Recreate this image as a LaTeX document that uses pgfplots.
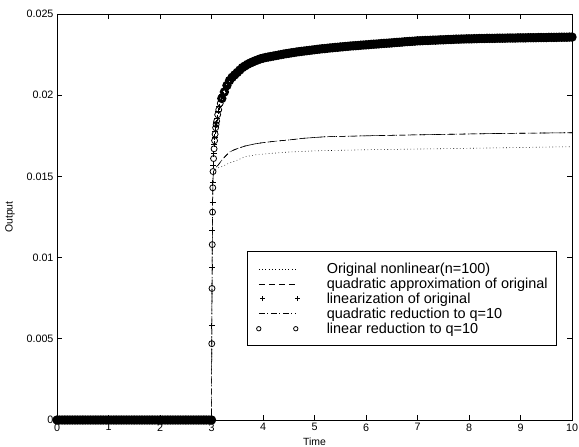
\documentclass[border=0pt]{standalone}
\usepackage{pgfplots}
\pgfplotsset{compat=1.18}
\usepackage{fontspec}
\setmainfont{Liberation Sans}
\pgfplotsset{
  linelegend/.style={legend image code/.code={\draw[##1, line width=0.6bp] (0bp,0bp) -- (37bp,0bp); \path[draw=none, fill=none] (0bp,0bp) -- (68bp,0bp);}},
  pluslegend/.style={legend image code/.code={\draw[black, solid, line width=0.8bp] (1.7bp,0bp) -- (6.3bp,0bp) (4bp,-2.3bp) -- (4bp,2.3bp) (36.7bp,0bp) -- (41.3bp,0bp) (39bp,-2.3bp) -- (39bp,2.3bp); \path[draw=none, fill=none] (0bp,0bp) -- (68bp,0bp);}},
  circlegend/.style={legend image code/.code={\draw[black, solid, line width=0.8bp] (0bp,0bp) circle (2.2bp) (37bp,0bp) circle (2.2bp); \path[draw=none, fill=none] (0bp,0bp) -- (68bp,0bp);}},
  thinmark/.style={black, only marks, mark size=3bp, line width=0.8bp},
  boldmark/.style={black, only marks, mark size=3.1bp, line width=3bp, forget plot},
}
\begin{document}
\begin{tikzpicture}
\begin{axis}[name=ax, scale only axis, width=515bp, height=406bp,
  xmin=0, xmax=10, ymin=0, ymax=0.025, clip=false,
  xtick={0,1,...,10},
  ytick={0,0.005,0.01,0.015,0.02,0.025},
  yticklabels={0,0.005,0.01,0.015,0.02,0.025},
  scaled y ticks=false,
  tick align=inside, major tick length=5bp,
  tick style={black, line width=0.6bp},
  axis line style={line width=0.8bp},
  /pgf/number format/assume math mode=true,
  tick label style={font=\fontsize{10.8}{12}\selectfont},
  xlabel={Time}, ylabel={Output},
  label style={font=\fontsize{10.5}{12}\selectfont},
  xlabel style={at={(axis description cs:0.5,-0.054)}, anchor=center},
  ylabel style={at={(axis description cs:-0.091,0.5)}, anchor=center},
  legend style={at={(0.9709,0.182)}, anchor=south east, draw=black, line width=0.8bp,
    font=\fontsize{14.5}{16}\selectfont, cells={anchor=west}, inner xsep=9bp, inner ysep=9bp,
    nodes={inner xsep=0bp, inner ysep=2bp}, row sep=-1bp},
]
\addplot[black, line width=0.6bp, dash pattern=on 0.7bp off 2.6bp, linelegend] coordinates {
(0,0) (3,0) (3.005,0.0047) (3.01,0.0081) (3.015,0.0108) (3.02,0.0128) (3.025,0.0141) (3.03,0.0149) (3.04,0.0153) (3.1,0.0155) (3.2,0.0156) (3.33,0.0158) (3.5,0.0160) (3.65,0.01621) (3.9,0.01635) (4.17,0.01642) (4.5,0.0165) (5.07,0.01658) (6,0.01664) (7.57,0.01671) (9,0.01678) (10,0.01683)};
\addlegendentry{Original nonlinear(n=100)}
\addplot[black, line width=0.6bp, dash pattern=on 6bp off 4bp, linelegend] coordinates {
(0,0) (3,0) (3.005,0.0047) (3.01,0.0081) (3.015,0.0108) (3.02,0.0128) (3.025,0.0141) (3.03,0.0149) (3.04,0.0153) (3.07,0.0155) (3.13,0.0157) (3.2,0.0160) (3.26,0.01621) (3.35,0.0165) (3.45,0.01665) (3.52,0.01673) (3.65,0.01687) (3.84,0.0170) (4.0,0.01708) (4.25,0.01717) (4.49,0.01724) (4.8,0.01735) (5.2,0.01744) (6,0.0175) (7,0.01756) (7.57,0.01759) (8.5,0.01764) (10,0.01769)};
\addlegendentry{quadratic approximation of original}
% linearization of original: isolated points of the rise
\addplot[thinmark, mark=+, pluslegend] coordinates {
(3.007,0.0058) (3.012,0.0094) (3.017,0.0117) (3.022,0.0134) (3.027,0.0146) (3.035,0.0157) (3.045,0.0164) (3.055,0.0170) (3.065,0.0174) (3.075,0.0178) (3.085,0.0181) (3.095,0.0183) (3.11,0.0186) (3.13,0.0190) (3.155,0.0193) (3.185,0.0197)};
\addlegendentry{linearization of original}
\addplot[black, line width=0.6bp, dash pattern=on 6bp off 2.5bp on 1bp off 2.5bp, linelegend] coordinates {
(0,0) (3,0) (3.005,0.0047) (3.01,0.0081) (3.015,0.0108) (3.02,0.0128) (3.025,0.0141) (3.03,0.0149) (3.04,0.0153) (3.07,0.0155) (3.13,0.0157) (3.2,0.0160) (3.26,0.01621) (3.35,0.0165) (3.45,0.01665) (3.52,0.01673) (3.65,0.01687) (3.84,0.0170) (4.0,0.01708) (4.25,0.01717) (4.49,0.01724) (4.8,0.01735) (5.2,0.01744) (6,0.0175) (7,0.01756) (7.57,0.01759) (8.5,0.01764) (10,0.01769)};
\addlegendentry{quadratic reduction to q=10}
% linear reduction to q=10: isolated points of the rise
\addplot[thinmark, mark=o, circlegend] coordinates {
(3.005,0.0047) (3.01,0.0081) (3.015,0.0108) (3.02,0.0128) (3.025,0.0143) (3.03,0.0153) (3.04,0.0161) (3.05,0.0167) (3.06,0.0172) (3.07,0.0176) (3.08,0.0180) (3.09,0.0182) (3.10,0.0184) (3.12,0.0188) (3.14,0.0191) (3.17,0.0195)};
\addlegendentry{linear reduction to q=10}
% linearization of original: densely packed points
\addplot[boldmark, mark=+, line width=1.8bp, mark size=3.6bp] coordinates {
(0.025,0) (0.075,0) (0.125,0) (0.175,0) (0.225,0) (0.275,0) (0.325,0) (0.375,0) (0.425,0) (0.475,0)
(0.525,0) (0.575,0) (0.625,0) (0.675,0) (0.725,0) (0.775,0) (0.825,0) (0.875,0) (0.925,0) (0.975,0)
(1.025,0) (1.075,0) (1.125,0) (1.175,0) (1.225,0) (1.275,0) (1.325,0) (1.375,0) (1.425,0) (1.475,0)
(1.525,0) (1.575,0) (1.625,0) (1.675,0) (1.725,0) (1.775,0) (1.825,0) (1.875,0) (1.925,0) (1.975,0)
(2.025,0) (2.075,0) (2.125,0) (2.175,0) (2.225,0) (2.275,0) (2.325,0) (2.375,0) (2.425,0) (2.475,0)
(2.525,0) (2.575,0) (2.625,0) (2.675,0) (2.725,0) (2.775,0) (2.825,0) (2.875,0) (2.925,0) (2.975,0)
(3.225,0.0200) (3.275,0.0204) (3.325,0.02075) (3.375,0.0210) (3.425,0.0212) (3.475,0.02133) (3.525,0.02148) (3.575,0.02163) (3.625,0.02175) (3.675,0.02185) (3.725,0.02194) (3.775,0.02202) (3.825,0.02209) (3.875,0.02215) (3.925,0.02221) (3.975,0.02226)
(4.025,0.02230) (4.075,0.02234) (4.125,0.02237) (4.175,0.02240) (4.225,0.02243) (4.275,0.02246) (4.325,0.02249) (4.375,0.02252) (4.425,0.02255) (4.475,0.02257)
(4.525,0.02260) (4.575,0.02262) (4.625,0.02265) (4.675,0.02267) (4.725,0.02269) (4.775,0.02271) (4.825,0.02273) (4.875,0.02275) (4.925,0.02277) (4.975,0.02279)
(5.025,0.02281) (5.075,0.02283) (5.125,0.02285) (5.175,0.02287) (5.225,0.02288) (5.275,0.02290) (5.325,0.02292) (5.375,0.02293) (5.425,0.02295) (5.475,0.02296)
(5.525,0.02298) (5.575,0.02299) (5.625,0.02301) (5.675,0.02302) (5.725,0.02304) (5.775,0.02305) (5.825,0.02306) (5.875,0.02307) (5.925,0.02309) (5.975,0.02310)
(6.025,0.02311) (6.075,0.02312) (6.125,0.02314) (6.175,0.02315) (6.225,0.02316) (6.275,0.02317) (6.325,0.02319) (6.375,0.02320) (6.425,0.02321) (6.475,0.02322)
(6.525,0.02323) (6.575,0.02325) (6.625,0.02326) (6.675,0.02327) (6.725,0.02328) (6.775,0.02330) (6.825,0.02331) (6.875,0.02332) (6.925,0.02333) (6.975,0.02334)
(7.025,0.02335) (7.075,0.02336) (7.125,0.02337) (7.175,0.02337) (7.225,0.02338) (7.275,0.02339) (7.325,0.02339) (7.375,0.02340) (7.425,0.02341) (7.475,0.02341)
(7.525,0.02342) (7.575,0.02343) (7.625,0.02343) (7.675,0.02344) (7.725,0.02345) (7.775,0.02345) (7.825,0.02346) (7.875,0.02346) (7.925,0.02347) (7.975,0.02347)
(8.025,0.02347) (8.075,0.02348) (8.125,0.02348) (8.175,0.02349) (8.225,0.02349) (8.275,0.02349) (8.325,0.02350) (8.375,0.02350) (8.425,0.02350) (8.475,0.02350)
(8.525,0.02351) (8.575,0.02351) (8.625,0.02351) (8.675,0.02351) (8.725,0.02352) (8.775,0.02352) (8.825,0.02352) (8.875,0.02352) (8.925,0.02353) (8.975,0.02353)
(9.025,0.02353) (9.075,0.02353) (9.125,0.02354) (9.175,0.02354) (9.225,0.02354) (9.275,0.02354) (9.325,0.02355) (9.375,0.02355) (9.425,0.02355) (9.475,0.02355)
(9.525,0.02356) (9.575,0.02356) (9.625,0.02356) (9.675,0.02356) (9.725,0.02357) (9.775,0.02357) (9.825,0.02357) (9.875,0.02357) (9.925,0.02358) (9.975,0.02358)};
% linear reduction to q=10: densely packed points
\addplot[boldmark, mark=o] coordinates {
(0,0) (0.05,0) (0.1,0) (0.15,0) (0.2,0) (0.25,0) (0.3,0) (0.35,0) (0.4,0) (0.45,0)
(0.5,0) (0.55,0) (0.6,0) (0.65,0) (0.7,0) (0.75,0) (0.8,0) (0.85,0) (0.9,0) (0.95,0)
(1,0) (1.05,0) (1.1,0) (1.15,0) (1.2,0) (1.25,0) (1.3,0) (1.35,0) (1.4,0) (1.45,0)
(1.5,0) (1.55,0) (1.6,0) (1.65,0) (1.7,0) (1.75,0) (1.8,0) (1.85,0) (1.9,0) (1.95,0)
(2,0) (2.05,0) (2.1,0) (2.15,0) (2.2,0) (2.25,0) (2.3,0) (2.35,0) (2.4,0) (2.45,0)
(2.5,0) (2.55,0) (2.6,0) (2.65,0) (2.7,0) (2.75,0) (2.8,0) (2.85,0) (2.9,0) (2.95,0) (3,0)
(3.20,0.0198) (3.25,0.0202) (3.30,0.0206) (3.35,0.0209) (3.40,0.0211) (3.45,0.02125) (3.50,0.0214) (3.55,0.02155) (3.60,0.0217) (3.65,0.0218) (3.70,0.0219) (3.75,0.02198) (3.80,0.02205) (3.85,0.02212) (3.90,0.02218) (3.95,0.02224)
(4.00,0.02228) (4.05,0.02232) (4.10,0.02235) (4.15,0.02238) (4.20,0.02241) (4.25,0.02244) (4.30,0.02247) (4.35,0.02250) (4.40,0.02253) (4.45,0.02256)
(4.50,0.02258) (4.55,0.02261) (4.60,0.02263) (4.65,0.02266) (4.70,0.02268) (4.75,0.02270) (4.80,0.02272) (4.85,0.02274) (4.90,0.02276) (4.95,0.02278)
(5.00,0.02280) (5.05,0.02282) (5.10,0.02284) (5.15,0.02286) (5.20,0.02287) (5.25,0.02289) (5.30,0.02291) (5.35,0.02292) (5.40,0.02294) (5.45,0.02295)
(5.50,0.02297) (5.55,0.02298) (5.60,0.02300) (5.65,0.02301) (5.70,0.02303) (5.75,0.02304) (5.80,0.02305) (5.85,0.02306) (5.90,0.02308) (5.95,0.02309)
(6.00,0.02310) (6.05,0.02311) (6.10,0.02313) (6.15,0.02314) (6.20,0.02315) (6.25,0.02316) (6.30,0.02318) (6.35,0.02319) (6.40,0.02320) (6.45,0.02321)
(6.50,0.02322) (6.55,0.02324) (6.60,0.02325) (6.65,0.02326) (6.70,0.02327) (6.75,0.02329) (6.80,0.02330) (6.85,0.02331) (6.90,0.02332) (6.95,0.02333)
(7.00,0.02335) (7.05,0.02335) (7.10,0.02336) (7.15,0.02337) (7.20,0.02337) (7.25,0.02338) (7.30,0.02339) (7.35,0.02339) (7.40,0.02340) (7.45,0.02341)
(7.50,0.02341) (7.55,0.02342) (7.60,0.02343) (7.65,0.02343) (7.70,0.02344) (7.75,0.02345) (7.80,0.02345) (7.85,0.02346) (7.90,0.02346) (7.95,0.02347)
(8.00,0.02347) (8.05,0.02347) (8.10,0.02348) (8.15,0.02348) (8.20,0.02349) (8.25,0.02349) (8.30,0.02349) (8.35,0.02350) (8.40,0.02350) (8.45,0.02350)
(8.50,0.02350) (8.55,0.02351) (8.60,0.02351) (8.65,0.02351) (8.70,0.02351) (8.75,0.02352) (8.80,0.02352) (8.85,0.02352) (8.90,0.02352) (8.95,0.02353)
(9.00,0.02353) (9.05,0.02353) (9.10,0.02353) (9.15,0.02354) (9.20,0.02354) (9.25,0.02354) (9.30,0.02354) (9.35,0.02355) (9.40,0.02355) (9.45,0.02355)
(9.50,0.02355) (9.55,0.02356) (9.60,0.02356) (9.65,0.02356) (9.70,0.02356) (9.75,0.02357) (9.80,0.02357) (9.85,0.02357) (9.90,0.02357) (9.95,0.02358) (10,0.02358)};
\end{axis}
\pgfresetboundingbox
\path[use as bounding box] ([xshift=-57bp,yshift=-27bp]ax.south west) rectangle ([xshift=7bp,yshift=14bp]ax.north east);
\end{tikzpicture}
\end{document}
